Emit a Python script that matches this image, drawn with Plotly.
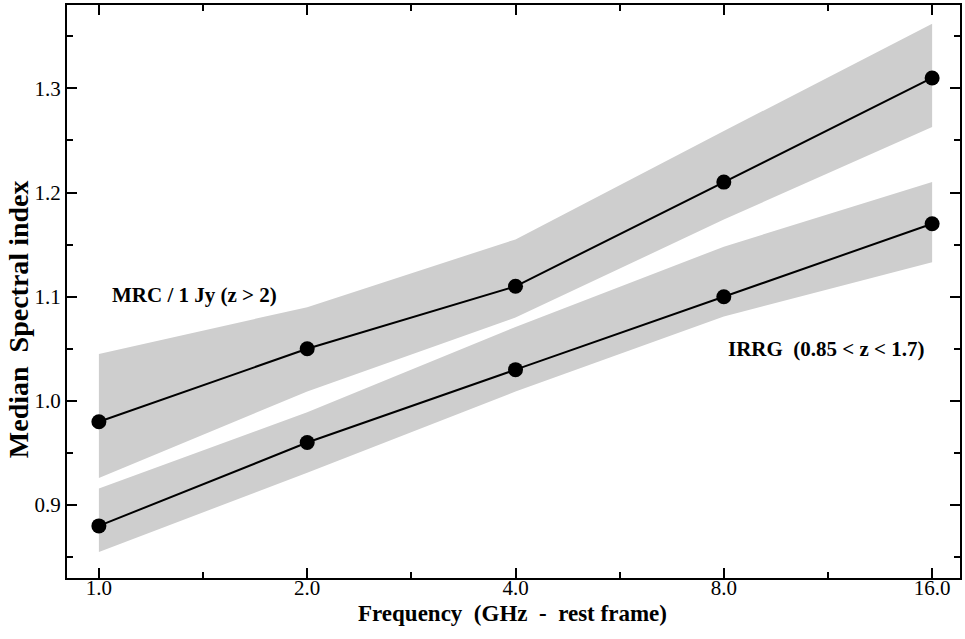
import plotly.graph_objects as go

freq = [1.0, 2.0, 4.0, 8.0, 16.0]
tick_labels = ["1.0", "2.0", "4.0", "8.0", "16.0"]
minor_x = [1.4142, 2.8284, 5.6569, 11.3137]

mrc = [0.98, 1.05, 1.11, 1.21, 1.31]
mrc_hi = [1.045, 1.090, 1.155, 1.259, 1.362]
mrc_lo = [0.926, 1.009, 1.080, 1.174, 1.263]

irrg = [0.88, 0.96, 1.03, 1.10, 1.17]
irrg_hi = [0.916, 0.989, 1.071, 1.148, 1.210]
irrg_lo = [0.855, 0.931, 1.009, 1.081, 1.133]

band_color = "rgb(206,206,206)"
serif = "Liberation Serif, Times New Roman, serif"

fig = go.Figure()
for hi, lo in [(mrc_hi, mrc_lo), (irrg_hi, irrg_lo)]:
    fig.add_trace(go.Scatter(x=freq + freq[::-1], y=hi + lo[::-1], fill="toself",
                             fillcolor=band_color, line=dict(width=0),
                             mode="lines", hoverinfo="skip", showlegend=False))
for ser in [mrc, irrg]:
    fig.add_trace(go.Scatter(x=freq, y=ser, mode="lines+markers",
                             line=dict(color="black", width=2),
                             marker=dict(color="black", size=15),
                             showlegend=False))

fig.update_layout(
    width=965, height=639,
    margin=dict(l=67, r=3, t=5, b=61),
    paper_bgcolor="white", plot_bgcolor="white",
    font=dict(family=serif, size=20, color="black"),
    xaxis=dict(type="log", range=[-0.0461, 1.2444],
               tickmode="array", tickvals=freq, ticktext=tick_labels,
               ticks="inside", ticklen=10, tickwidth=1.5, tickcolor="black",
               ticklabelstandoff=-10,
               minor=dict(tickmode="array", tickvals=minor_x, ticks="inside",
                          ticklen=6, tickwidth=1.5, tickcolor="black"),
               showline=True, linecolor="black", linewidth=2, mirror="ticks",
               showgrid=False, zeroline=False,
               tickfont=dict(family=serif, size=21)),
    yaxis=dict(range=[0.83, 1.38],
               tickmode="array", tickvals=[0.9, 1.0, 1.1, 1.2, 1.3],
               ticktext=["0.9", "1.0", "1.1", "1.2", "1.3"],
               ticks="inside", ticklen=10, tickwidth=1.5, tickcolor="black",
               minor=dict(tickmode="array", tickvals=[0.85, 0.95, 1.05, 1.15, 1.25, 1.35],
                          ticks="inside", ticklen=6, tickwidth=1.5, tickcolor="black"),
               showline=True, linecolor="black", linewidth=2, mirror="ticks",
               showgrid=False, zeroline=False,
               tickfont=dict(family=serif, size=21)),
    annotations=[
        dict(text="<b>Median  Spectral index</b>", xref="paper", yref="paper",
             x=-0.0547, y=0.452, xanchor="center", yanchor="middle",
             textangle=-90, showarrow=False, font=dict(family=serif, size=28)),
        dict(text="<b>Frequency  (GHz  -  rest frame)</b>", xref="paper", yref="paper",
             x=0.4994, y=-0.062, xanchor="center", yanchor="middle",
             showarrow=False, font=dict(family=serif, size=23)),
        dict(text="<b>MRC / 1 Jy (z > 2)</b>", x=0.138, y=1.102, xref="x", yref="y",
             showarrow=False, xanchor="center", font=dict(family=serif, size=21)),
        dict(text="<b>IRRG  (0.85 < z < 1.7)</b>", x=1.052, y=1.050, xref="x", yref="y",
             showarrow=False, xanchor="center", font=dict(family=serif, size=21)),
    ],
)
fig.write_html("out.html", config={"displayModeBar": False},
               post_script="document.body.style.margin='0';")
